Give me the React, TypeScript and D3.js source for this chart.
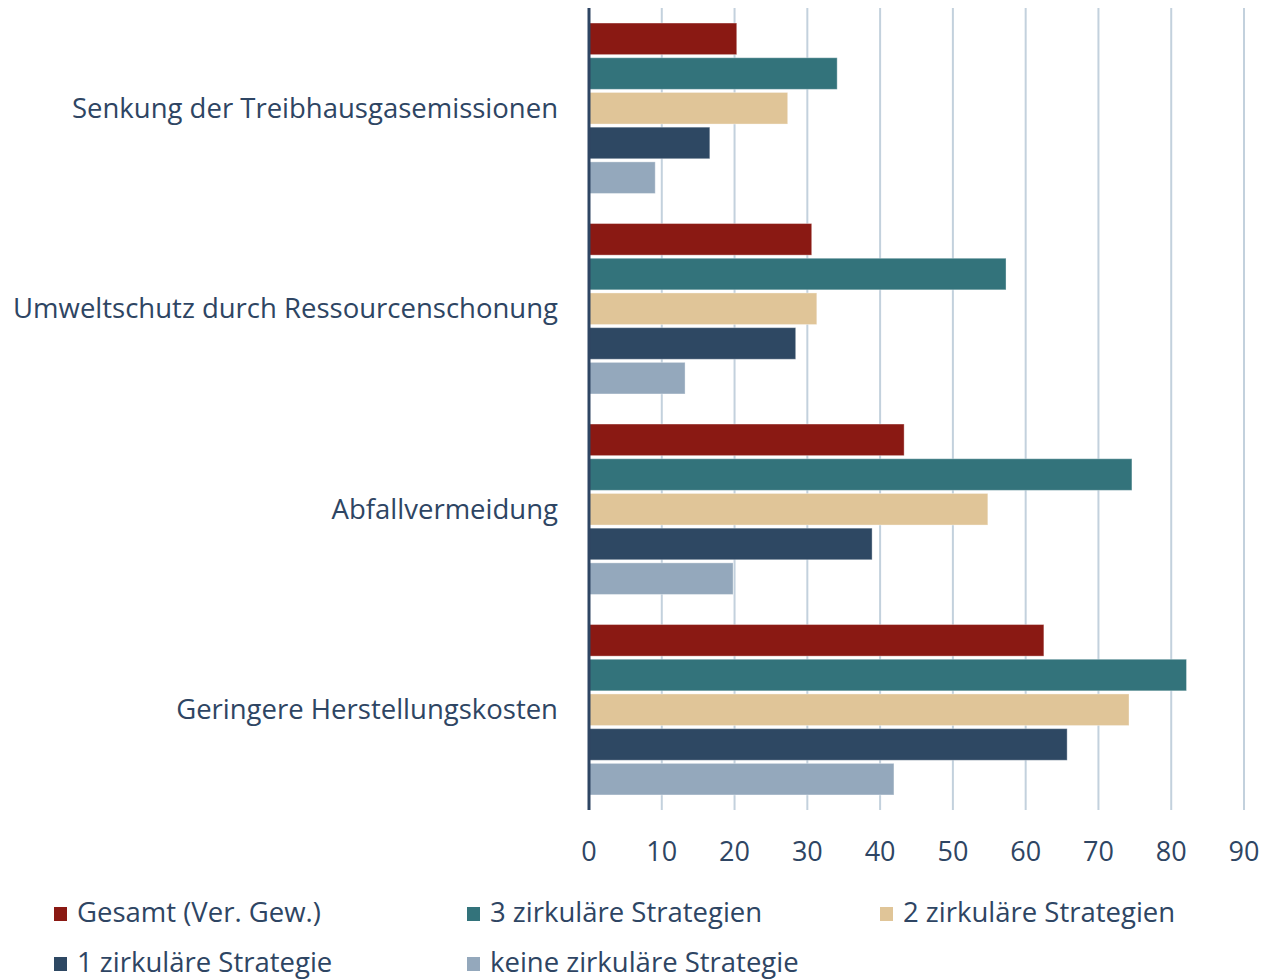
import React from "react";
import * as d3 from "d3";

const categories = [
  "Senkung der Treibhausgasemissionen",
  "Umweltschutz durch Ressourcenschonung",
  "Abfallvermeidung",
  "Geringere Herstellungskosten",
];
const seriesNames = [
  "Gesamt (Ver. Gew.)",
  "3 zirkuläre Strategien",
  "2 zirkuläre Strategien",
  "1 zirkuläre Strategie",
  "keine zirkuläre Strategie",
];
const gesamt = [20.3, 30.6, 43.3, 62.5];
const drei = [34.1, 57.3, 74.6, 82.1];
const zwei = [27.3, 31.3, 54.8, 74.2];
const eins = [16.6, 28.4, 38.9, 65.7];
const keine = [9.1, 13.2, 19.8, 41.9];
const seriesValues = [gesamt, drei, zwei, eins, keine];
const colors = ["#8A1913", "#33737B", "#E0C598", "#2E4863", "#94A8BC"];
const ticks = [0, 10, 20, 30, 40, 50, 60, 70, 80, 90];

const W = 1272;
const H = 979;
const textColor = "#2E4563";
const font = "'Open Sans', Lato, sans-serif";

export default function App() {
  const x = d3.scaleLinear().domain([0, 90]).range([581, 1236]);
  const y0 = d3
    .scaleBand<string>()
    .domain(categories)
    .range([0, 802])
    .paddingInner(0.15)
    .paddingOuter(0.075);
  const y1 = d3
    .scaleBand<number>()
    .domain(d3.range(seriesNames.length))
    .range([0, y0.bandwidth()])
    .paddingInner(0.09);

  const legendPos = [
    [46, 906],
    [459, 906],
    [872, 906],
    [46, 956],
    [459, 956],
  ];

  return (
    <svg width={W} height={H} style={{ display: "block" }} fontFamily={font}>
      <g>
        {ticks.slice(1).map((t) => (
          <line
            key={t}
            x1={x(t)}
            x2={x(t)}
            y1={0}
            y2={802}
            stroke="#C3D1DD"
            strokeWidth={2}
          />
        ))}
        {categories.map((c, ci) => (
          <g key={c} transform={`translate(0,${y0(c)})`}>
            {seriesValues.map((vals, si) => (
              <rect
                key={si}
                x={x(0)}
                y={y1(si)}
                width={x(vals[ci]) - x(0)}
                height={y1.bandwidth()}
                fill={colors[si]}
                stroke="#ffffff"
                strokeOpacity={0.35}
                strokeWidth={1}
              />
            ))}
            <text
              x={550}
              y={y0.bandwidth() / 2 + 2}
              textAnchor="end"
              dominantBaseline="middle"
              fontSize={27.5}
              fill={textColor}
            >
              {c}
            </text>
          </g>
        ))}
        <line x1={x(0)} x2={x(0)} y1={0} y2={802} stroke="#2E4563" strokeWidth={3} />
        {ticks.map((t) => (
          <text
            key={t}
            x={x(t)}
            y={846}
            textAnchor="middle"
            dominantBaseline="middle"
            fontSize={27}
            fill={textColor}
          >
            {t}
          </text>
        ))}
        {seriesNames.map((s, i) => (
          <g key={s} transform={`translate(${legendPos[i][0]},${legendPos[i][1]})`}>
            <rect x={0} y={-7} width={13} height={14} fill={colors[i]} />
            <text x={23} y={1} dominantBaseline="middle" fontSize={27.5} fill={textColor}>
              {s}
            </text>
          </g>
        ))}
      </g>
    </svg>
  );
}
